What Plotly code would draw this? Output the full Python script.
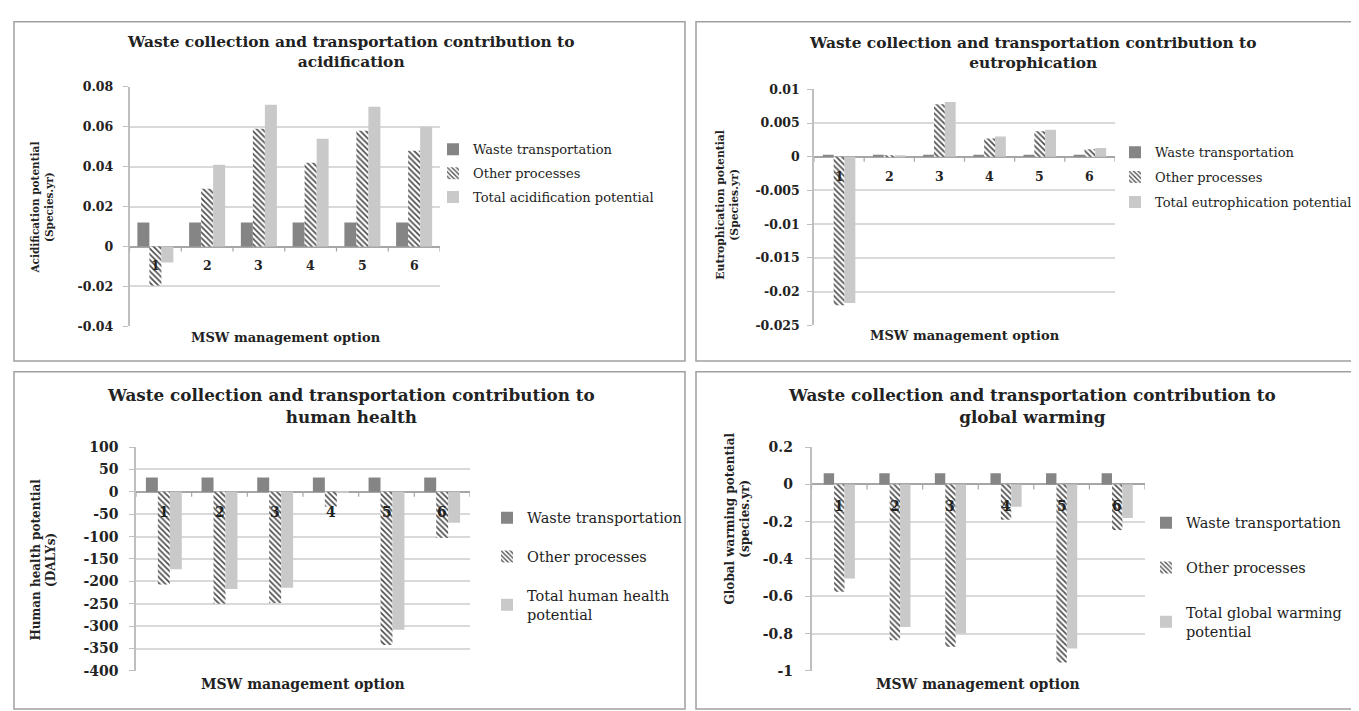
import plotly.graph_objects as go

W, H = 1359, 711

categories = ["1", "2", "3", "4", "5", "6"]

# Acidification (Species.yr)
acid_waste = [0.012, 0.012, 0.012, 0.012, 0.012, 0.012]
acid_other = [-0.0195, 0.029, 0.059, 0.042, 0.058, 0.048]
acid_total = [-0.008, 0.041, 0.071, 0.054, 0.070, 0.060]
acid_ticks = [-0.04, -0.02, 0, 0.02, 0.04, 0.06, 0.08]

# Eutrophication (Species.yr)
eutro_waste = [0.0003, 0.0003, 0.0003, 0.0003, 0.0003, 0.0003]
eutro_other = [-0.022, 0.0001, 0.0078, 0.0027, 0.0038, 0.0011]
eutro_total = [-0.0217, 0.0002, 0.0081, 0.0030, 0.0040, 0.0013]
eutro_ticks = [-0.025, -0.02, -0.015, -0.01, -0.005, 0, 0.005, 0.01]

# Human health (DALYs)
hh_waste = [32, 32, 32, 32, 32, 32]
hh_other = [-207, -250, -248, -33, -342, -103]
hh_total = [-173, -217, -214, -1, -308, -69]
hh_ticks = [-400, -350, -300, -250, -200, -150, -100, -50, 0, 50, 100]

# Global warming (species.yr)
gw_waste = [0.06, 0.06, 0.06, 0.06, 0.06, 0.06]
gw_other = [-0.575, -0.835, -0.87, -0.19, -0.955, -0.245]
gw_total = [-0.505, -0.765, -0.80, -0.12, -0.88, -0.18]
gw_ticks = [-1, -0.8, -0.6, -0.4, -0.2, 0, 0.2]

FONT = "DejaVu Serif"
C_WASTE = "#858585"
C_TOTAL = "#c9c9c9"
GRID = "#d9d9d9"
TXT = "#222222"


def px(x):
    return x / W


def py(y):
    return 1 - y / H


panels = [
    dict(waste=acid_waste, other=acid_other, total=acid_total, ticks=acid_ticks,
         total_name="Total acidification potential",
         title="Waste collection and transportation contribution to<br>acidification",
         ytitle="Acidification potential<br>(Species.yr)",
         xd=(121.5, 432), yd=(72.5, 317.5), box=(6, 6, 677, 353),
         title_xy=(342, 37), xt_xy=(278, 329), yt_xy=(34, 196),
         leg_xy=(425, 121), leg_gap=4, fs_title=15.4, fs_tick=12.5, fs_leg=13, fs_ax=13, fs_yt=10.5,
         cat_shift=-9, bw=0.232, standoff=7),
    dict(waste=eutro_waste, other=eutro_other, total=eutro_total, ticks=eutro_ticks,
         total_name="Total eutrophication potential",
         title="Waste collection and transportation contribution to<br>eutrophication",
         ytitle="Eutrophication potential<br>(Species.yr)",
         xd=(806, 1107), yd=(75, 316.5), box=(688, 6, 1355, 353),
         title_xy=(1024, 38), xt_xy=(957, 327), yt_xy=(720, 193),
         leg_xy=(1107, 124), leg_gap=5, fs_title=15.4, fs_tick=12.5, fs_leg=13, fs_ax=13, fs_yt=10.8,
         cat_shift=-10, bw=0.216, standoff=5),
    dict(waste=hh_waste, other=hh_other, total=hh_total, ticks=hh_ticks,
         total_name="Total human health<br>potential",
         title="Waste collection and transportation contribution to<br>human health",
         ytitle="Human health potential<br>(DALYs)",
         xd=(128, 462), yd=(441, 670), box=(6, 364, 677, 709),
         title_xy=(343, 399), xt_xy=(295, 683), yt_xy=(36, 556),
         leg_xy=(479, 497), leg_gap=17, fs_title=16.8, fs_tick=14, fs_leg=14.5, fs_ax=14, fs_yt=12,
         cat_shift=-10, bw=0.215, standoff=8),
    dict(waste=gw_waste, other=gw_other, total=gw_total, ticks=gw_ticks,
         total_name="Total global warming<br>potential",
         title="Waste collection and transportation contribution to<br>global warming",
         ytitle="Global warming potential<br>(species.yr)",
         xd=(803.5, 1137), yd=(441, 670), box=(688, 364, 1356, 709),
         title_xy=(1024, 399), xt_xy=(970, 683), yt_xy=(730, 514),
         leg_xy=(1138, 502), leg_gap=23, fs_title=16.8, fs_tick=14, fs_leg=14.5, fs_ax=14, fs_yt=12,
         cat_shift=-12, bw=0.187, standoff=9),
]

fig = go.Figure()
shapes = []
annotations = []
layout_extra = {}

for i, p in enumerate(panels):
    n = i + 1
    xa = "x" if n == 1 else f"x{n}"
    ya = "y" if n == 1 else f"y{n}"
    leg = "legend" if n == 1 else f"legend{n}"
    bw = p["bw"]
    names = ["Waste transportation", "Other processes", p["total_name"]]
    fig.add_trace(go.Bar(x=categories, y=p["waste"], name=names[0], xaxis=xa, yaxis=ya,
                         legend=leg, legendgroup=f"g{n}a", width=bw, offset=-1.5 * bw,
                         marker=dict(color=C_WASTE, line=dict(width=0))))
    fig.add_trace(go.Bar(x=categories, y=p["other"], name=names[1], xaxis=xa, yaxis=ya,
                         legend=leg, legendgroup=f"g{n}b", width=bw, offset=-0.5 * bw,
                         marker=dict(color="white", line=dict(width=0),
                                     pattern=dict(shape="\\", fgcolor="#4a4a4a", bgcolor="white",
                                                  size=4, solidity=0.4, fillmode="replace"))))
    fig.add_trace(go.Bar(x=categories, y=p["total"], name=names[2], xaxis=xa, yaxis=ya,
                         legend=leg, legendgroup=f"g{n}c", width=bw, offset=0.5 * bw,
                         marker=dict(color=C_TOTAL, line=dict(width=0))))

    xkey = "xaxis" if n == 1 else f"xaxis{n}"
    ykey = "yaxis" if n == 1 else f"yaxis{n}"
    layout_extra[xkey] = dict(domain=[px(p["xd"][0]), px(p["xd"][1])], anchor=ya,
                              type="category", range=[-0.5, len(categories) - 0.5],
                              showticklabels=False, showgrid=False,
                              zeroline=False, showline=False, ticks="", fixedrange=True)
    t = p["ticks"]
    layout_extra[ykey] = dict(domain=[py(p["yd"][1]), py(p["yd"][0])], anchor=xa,
                              range=[min(t), max(t)], tickmode="array", tickvals=t,
                              ticktext=[f"{v:g}" for v in t],
                              showgrid=True, gridcolor=GRID, gridwidth=1.5,
                              zeroline=True, zerolinecolor="#a6a6a6", zerolinewidth=1.5,
                              showline=True, linecolor="#bfbfbf", linewidth=1.5,
                              ticks="outside", ticklen=5, tickcolor="#bfbfbf",
                              ticklabelstandoff=p["standoff"],
                              tickfont=dict(family=FONT, size=p["fs_tick"], color=TXT, weight="bold"),
                              fixedrange=True)
    layout_extra[leg] = dict(x=px(p["leg_xy"][0]), y=py(p["leg_xy"][1]), xanchor="left", yanchor="top",
                             bgcolor="rgba(0,0,0,0)", tracegroupgap=p["leg_gap"],
                             font=dict(family=FONT, size=p["fs_leg"], color=TXT),
                             itemclick=False, itemdoubleclick=False)

    x0, y0, x1, y1 = p["box"]
    shapes.append(dict(type="rect", xref="paper", yref="paper", x0=px(x0), x1=px(x1),
                       y0=py(y1), y1=py(y0), line=dict(color="#a0a0a0", width=1.5),
                       fillcolor="rgba(0,0,0,0)", layer="below"))
    # small category-boundary tick marks on the zero line
    for j in range(len(categories) + 1):
        shapes.append(dict(type="line", xref=xa, yref=ya, x0=j - 0.5, x1=j - 0.5,
                           ysizemode="pixel", yanchor=0, y0=0, y1=-5,
                           line=dict(color="#a6a6a6", width=1.2)))
    annotations.append(dict(text=p["title"], xref="paper", yref="paper",
                            x=px(p["title_xy"][0]), y=py(p["title_xy"][1]),
                            xanchor="center", yanchor="middle", showarrow=False,
                            font=dict(family=FONT, size=p["fs_title"], color=TXT, weight="bold")))
    annotations.append(dict(text="MSW management option", xref="paper", yref="paper",
                            x=px(p["xt_xy"][0]), y=py(p["xt_xy"][1]),
                            xanchor="center", yanchor="middle", showarrow=False,
                            font=dict(family=FONT, size=p["fs_ax"], color=TXT, weight="bold")))
    annotations.append(dict(text=p["ytitle"], xref="paper", yref="paper",
                            x=px(p["yt_xy"][0]), y=py(p["yt_xy"][1]), textangle=-90,
                            xanchor="center", yanchor="middle", showarrow=False,
                            font=dict(family=FONT, size=p["fs_yt"], color=TXT, weight="bold")))
    for j, c in enumerate(categories):
        annotations.append(dict(text=c, xref=xa, yref=ya, x=j, y=0,
                                xanchor="center", yanchor="top", yshift=p["cat_shift"],
                                showarrow=False,
                                font=dict(family=FONT, size=p["fs_tick"], color=TXT, weight="bold")))

fig.update_layout(
    width=W, height=H, margin=dict(l=0, r=0, t=0, b=0),
    paper_bgcolor="white", plot_bgcolor="white",
    barmode="group",
    shapes=shapes, annotations=annotations, showlegend=True,
    font=dict(family=FONT, color=TXT),
    **layout_extra,
)

fig.write_html("out.html")
